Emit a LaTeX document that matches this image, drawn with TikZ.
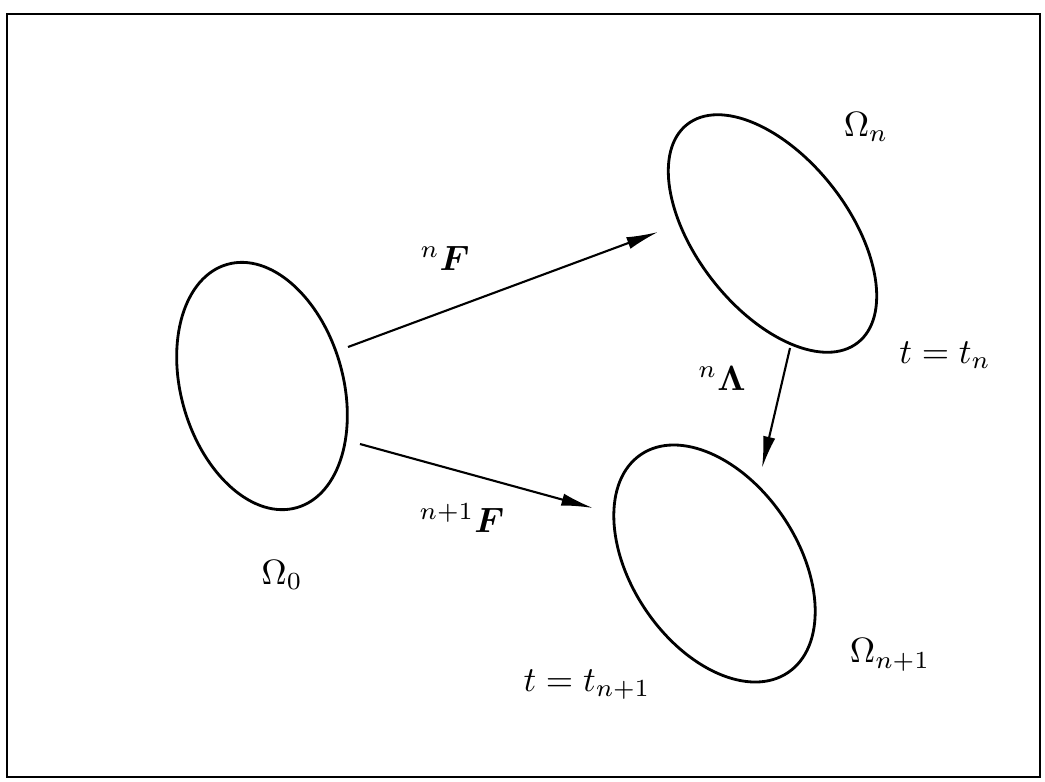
\documentclass[tikz,border=0pt]{standalone}
\usepackage{amsmath,amssymb}
\usetikzlibrary{arrows.meta,shapes.geometric}
\begin{document}
\begin{tikzpicture}[>={Latex[length=9pt,width=3.5pt]},
  body/.style={draw, thick, ellipse, inner sep=0pt}]
\useasboundingbox (0,0) rectangle (10.45,7.81);
\draw[semithick] (0.07,0.04) rectangle (10.40,7.67);

% the three bodies
\node[body, minimum width=1.62cm, minimum height=2.53cm, rotate=16] (b0) at (2.62,3.95) {};
\node[body, minimum width=1.52cm, minimum height=2.77cm, rotate=38] (bn) at (7.725,5.475) {};
\node[body, minimum width=1.66cm, minimum height=2.63cm, rotate=34] (bm) at (7.145,2.175) {};

\coordinate (a1) at (3.48,4.34);
\coordinate (a2) at (6.58,5.49);
\coordinate (b1) at (3.60,3.37);
\coordinate (b2) at (5.93,2.73);
\coordinate (c1) at (7.90,4.33);
\coordinate (c2) at (7.62,3.13);
\draw[->, semithick] (a1)--(a2);
\draw[->, semithick] (b1)--(b2);
\draw[->, semithick] (c1)--(c2);

\node (nF) at (4.45,5.23) {$^{n}\boldsymbol{F}$};
\node (mF) at (4.62,2.63) {$^{n+1}\boldsymbol{F}$};
\node (nL) at (7.22,4.03) {$^{n}\boldsymbol{\Lambda}$};
\node (om0) at (2.82,2.06) {$\Omega_0$};
\node (omn) at (8.66,6.54) {$\Omega_n$};
\node (omm) at (8.90,1.26) {$\Omega_{n+1}$};
\node (tn) at (9.45,4.26) {$t=t_n$};
\node (tm) at (5.87,0.96) {$t=t_{n+1}$};
\end{tikzpicture}
\end{document}
